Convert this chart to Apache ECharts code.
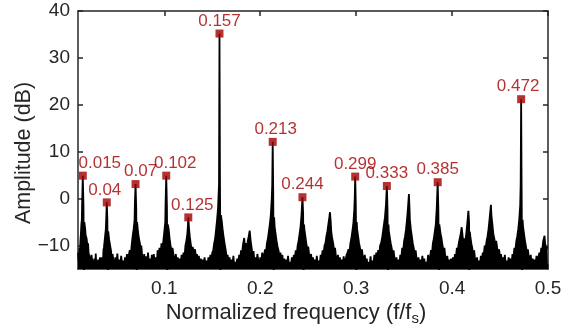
<!DOCTYPE html>
<html>
<head>
<meta charset="utf-8">
<script src="https://cdn.jsdelivr.net/npm/echarts@6/dist/echarts.min.js"></script>
<style>
html,body{margin:0;padding:0;background:#fff;}
#chart{width:561px;height:333px;}
</style>
</head>
<body>
<div id="chart"></div>
<script>
// Tick values
const xTicks = [0.1, 0.2, 0.3, 0.4, 0.5];
const yTicks = [-10, 0, 10, 20, 30, 40];

// Labelled peaks
const peakFreq  = [0.015, 0.04, 0.07, 0.102, 0.125, 0.1575, 0.213, 0.244, 0.299, 0.332, 0.385, 0.472];
const peakAmp   = [4.9, -0.8, 3.1, 4.9, -4.0, 35.2, 12.1, 0.3, 4.7, 2.7, 3.5, 21.2];
const peakLabel = ['0.015','0.04','0.07','0.102','0.125','0.157','0.213','0.244','0.299','0.333','0.385','0.472'];

// Spectrum [frequency (f/fs), amplitude (dB)]
const spectrum = [
[0.010,-11.5],[0.011,-14],[0.0115,-10.5],[0.012,-12],[0.0125,-9],[0.013,-7.5],[0.0135,-5.5],[0.014,-4.5],[0.0143,-1],[0.015,4.9],[0.0157,-1.5],[0.0162,-15.5],[0.0166,-5],[0.0175,-6.5],[0.018,-7.8],[0.019,-8.5],[0.020,-10.5],[0.0205,-9.5],[0.021,-11.5],[0.022,-12.5],[0.023,-14],[0.024,-12],
[0.025,-13.5],[0.026,-14.5],[0.027,-12.8],[0.028,-14.2],[0.0285,-11.7],[0.029,-13.8],[0.030,-14.6],[0.031,-13],[0.032,-14.2],[0.033,-12.5],[0.034,-14],
[0.035,-12.5],[0.036,-13.8],[0.0365,-11],[0.037,-10.5],[0.038,-8.5],[0.039,-6.5],[0.0395,-4],[0.040,-0.8],[0.0406,-4.5],[0.0411,-15.5],[0.0415,-7],[0.0425,-8.8],[0.0435,-10],[0.0445,-11.2],[0.045,-13.5],[0.046,-11.8],[0.047,-13.2],[0.048,-14.5],
[0.049,-12.5],[0.050,-14.2],[0.051,-11.7],[0.052,-14.3],[0.053,-13],[0.054,-14.6],[0.055,-12.2],[0.056,-14],[0.057,-13.2],[0.058,-14.5],[0.059,-12.5],[0.060,-14],[0.061,-11.8],[0.062,-13.5],
[0.063,-12],[0.064,-11],[0.065,-12.2],[0.066,-9.8],[0.067,-8],[0.068,-6.5],[0.069,-4.5],[0.0693,-1],[0.070,3.1],[0.0707,-2],[0.0712,-15.5],[0.0716,-5],[0.0725,-7],[0.0735,-8.5],[0.0745,-9.5],[0.0755,-11],[0.076,-10],[0.077,-12.5],[0.078,-13.5],[0.079,-11.8],
[0.080,-14.2],[0.081,-12.3],[0.082,-14.5],[0.083,-11.5],[0.084,-13.8],[0.085,-12.8],[0.086,-14.6],[0.087,-12],[0.088,-14],[0.089,-11.8],[0.090,-13.8],[0.091,-12.5],[0.092,-14.4],[0.093,-11],
[0.094,-12],[0.095,-10.5],[0.096,-12.5],[0.097,-9.5],[0.098,-10.8],[0.099,-9],[0.100,-7],[0.101,-5],[0.1013,-1],[0.102,4.9],[0.1027,-1.5],[0.1032,-15.5],[0.1036,-5.5],[0.1045,-6.5],[0.1055,-8.5],[0.1065,-10],[0.1075,-11.2],[0.1085,-10.5],[0.110,-12.5],[0.111,-13.8],[0.112,-11.8],
[0.113,-14],[0.114,-12.5],[0.115,-14.5],[0.116,-12.8],[0.117,-14],[0.118,-12],[0.119,-13.5],
[0.120,-11.5],[0.121,-12.5],[0.122,-10],[0.123,-9],[0.124,-7.5],[0.1245,-6],[0.125,-4],[0.1258,-6.5],[0.1265,-8],[0.1275,-9.6],[0.1285,-11],[0.1295,-10.3],[0.131,-11.5],[0.132,-10.8],[0.133,-12.5],[0.134,-11.8],[0.135,-13.5],[0.136,-12.2],[0.137,-14],[0.138,-12.8],[0.139,-14.5],[0.140,-13],
[0.141,-14.2],[0.142,-12.5],[0.143,-14.6],[0.144,-13.2],[0.145,-14.2],[0.146,-12.5],[0.147,-14],[0.148,-12],
[0.149,-13],[0.150,-11.5],[0.151,-11],[0.152,-9.5],[0.153,-8.5],[0.154,-6.5],[0.155,-4.5],[0.156,-2],[0.157,3],[0.1575,35.2],[0.158,4],[0.1585,-15.5],[0.159,-3.5],[0.160,-5],[0.161,-7],[0.162,-8.5],[0.163,-9.8],[0.164,-11],[0.165,-12.5],[0.166,-12],[0.167,-13.5],
[0.168,-12.5],[0.169,-14.3],[0.170,-13],[0.171,-14.2],[0.172,-12.2],[0.173,-14.6],[0.174,-13.5],[0.175,-14.3],[0.176,-12.8],[0.177,-14],
[0.178,-12],[0.179,-13],[0.180,-11],[0.181,-11.8],[0.182,-9.8],[0.1833,-8.4],[0.184,-10.5],[0.185,-9.5],[0.186,-11],[0.187,-9],[0.188,-8],[0.189,-6.8],[0.190,-9],[0.191,-10.5],[0.192,-12],[0.193,-11.2],[0.194,-13.5],
[0.195,-12.5],[0.196,-14.2],[0.197,-11.8],[0.198,-13.2],[0.199,-14.6],[0.200,-12.5],[0.201,-14],[0.202,-11.5],[0.203,-13],[0.204,-12],
[0.205,-10.8],[0.206,-11.5],[0.207,-9.5],[0.208,-8.5],[0.209,-7],[0.210,-5.5],[0.211,-3.5],[0.212,0],[0.2125,3],[0.213,12.1],[0.2135,2],[0.214,-15.5],[0.2145,-4],[0.215,-6],[0.216,-7.5],[0.217,-9],[0.218,-10.2],[0.219,-11],[0.220,-12.3],[0.221,-11.5],[0.222,-13.2],
[0.223,-12],[0.224,-14],[0.225,-12.8],[0.226,-14.5],[0.227,-13],[0.228,-14.3],[0.229,-12.2],[0.230,-14.6],[0.231,-13.5],[0.232,-14.3],[0.233,-12.5],[0.234,-14],[0.235,-12],[0.236,-13],
[0.237,-11],[0.238,-12],[0.239,-10],[0.240,-9],[0.241,-7.5],[0.242,-6],[0.243,-3.5],[0.244,0.3],[0.2447,-3],[0.2452,-15.5],[0.2457,-5.5],[0.246,-6.5],[0.247,-8],[0.248,-9.5],[0.249,-10.8],[0.250,-10.2],[0.251,-12],[0.252,-13.2],[0.253,-11.8],
[0.254,-14],[0.255,-12.5],[0.256,-14.4],[0.257,-13],[0.258,-14.2],[0.259,-12.2],[0.260,-14.6],[0.261,-13.2],[0.262,-14],[0.263,-12],
[0.264,-12.8],[0.265,-11],[0.266,-11.8],[0.267,-10],[0.268,-9.5],[0.269,-8],[0.270,-7],[0.271,-5.5],[0.272,-4],[0.2727,-2.9],[0.2735,-5],[0.274,-7],[0.275,-8.5],[0.276,-9.5],[0.277,-11],[0.278,-10.5],[0.279,-12.5],
[0.280,-13.5],[0.281,-12],[0.282,-14.2],[0.283,-12.5],[0.284,-14.6],[0.285,-13],[0.286,-14],[0.287,-12.3],[0.288,-14.4],[0.289,-13],[0.290,-12],
[0.291,-11.5],[0.292,-10.8],[0.293,-11.5],[0.294,-9.5],[0.295,-8.5],[0.296,-7],[0.297,-5.5],[0.298,-2.5],[0.2985,0],[0.299,4.7],[0.2996,-1],[0.3002,-15.5],[0.3006,-5],[0.301,-6.5],[0.302,-8],[0.303,-9.5],[0.304,-10.5],[0.305,-11.5],[0.306,-10.8],[0.307,-12.5],[0.308,-13.5],
[0.309,-12],[0.310,-14],[0.311,-12.8],[0.312,-14.5],[0.313,-13.5],[0.314,-14.2],[0.315,-12.3],[0.316,-14.5],[0.317,-13.2],[0.318,-14],[0.319,-12],[0.320,-13.5],[0.321,-11.5],[0.322,-12.5],
[0.323,-11],[0.324,-12],[0.325,-10],[0.326,-9.5],[0.327,-8.5],[0.328,-7],[0.329,-5.5],[0.330,-4],[0.331,-1.5],[0.332,2.7],[0.3327,-2.5],[0.3332,-15.5],[0.3337,-5.5],[0.334,-6.8],[0.335,-8.2],[0.336,-9.5],[0.337,-10.5],[0.338,-11.8],[0.339,-11],[0.340,-12.8],[0.341,-14],
[0.342,-12.5],[0.343,-14.4],[0.344,-13],[0.345,-14.2],[0.346,-12],
[0.347,-12.8],[0.348,-10.5],[0.349,-11.2],[0.350,-9],[0.351,-8],[0.352,-6.5],[0.353,-4.5],[0.354,-2],[0.355,1.0],[0.3557,-2.5],[0.356,-4.5],[0.357,-6.5],[0.358,-8],[0.359,-9.5],[0.360,-10.5],[0.361,-11.8],[0.362,-11],[0.363,-12.8],
[0.364,-14],[0.365,-12.5],[0.366,-14.5],[0.367,-13],[0.368,-14.3],[0.369,-12.2],[0.370,-14],[0.371,-12.8],[0.372,-14.6],[0.373,-13.5],[0.374,-14.2],[0.375,-12],[0.376,-13.8],
[0.377,-12.5],[0.378,-11],[0.379,-11.8],[0.380,-9.5],[0.381,-8.5],[0.382,-7],[0.383,-5.5],[0.384,-2],[0.385,3.5],[0.3857,-2.5],[0.3862,-15.5],[0.3867,-5.5],[0.388,-7.5],[0.389,-8.5],[0.390,-10],[0.391,-11],[0.392,-10.5],[0.393,-12.5],[0.394,-13.5],
[0.395,-12.2],[0.396,-14.2],[0.397,-13],[0.398,-14.6],[0.399,-12.8],[0.400,-14.2],[0.401,-12.5],[0.402,-13.5],
[0.403,-11.8],[0.404,-12.5],[0.405,-10.5],[0.406,-11],[0.407,-9.5],[0.408,-8.5],[0.409,-7.5],[0.410,-6.1],[0.411,-8],[0.412,-9.5],[0.413,-8.5],[0.414,-9],[0.415,-7],[0.416,-5],[0.417,-2.6],[0.4177,-5],[0.418,-15.5],[0.4185,-7],[0.419,-8],[0.420,-9.5],[0.421,-10.5],[0.422,-11.8],[0.423,-11],[0.424,-13],
[0.425,-14],[0.426,-12.5],[0.427,-14.5],[0.428,-13.2],[0.429,-14.2],[0.430,-12.2],[0.431,-13.5],
[0.432,-11.5],[0.433,-12],[0.434,-10],[0.435,-10.5],[0.436,-9],[0.437,-8],[0.438,-6.5],[0.439,-4.5],[0.4405,-1.3],[0.441,-3.5],[0.442,-5.5],[0.443,-7.5],[0.444,-8.5],[0.445,-9.8],[0.446,-9],[0.447,-10.5],[0.448,-11.5],[0.449,-10.8],[0.450,-12.5],[0.451,-11.8],[0.452,-13.5],
[0.453,-12.5],[0.454,-14.2],[0.455,-12],[0.456,-14.6],[0.457,-13.2],[0.458,-14],[0.459,-12.5],[0.460,-14.5],[0.461,-12.8],[0.462,-13.8],[0.463,-11.8],
[0.464,-12.5],[0.465,-10.5],[0.466,-11],[0.467,-9],[0.468,-8],[0.469,-6.5],[0.470,-4.5],[0.471,-1.5],[0.4715,3],[0.472,21.2],[0.4725,2],[0.473,-15.5],[0.4735,-4.5],[0.474,-6],[0.475,-7.5],[0.476,-9],[0.477,-10.2],[0.478,-11.5],[0.479,-10.8],[0.480,-12.5],[0.481,-13.5],
[0.482,-12],[0.483,-14.2],[0.484,-12.8],[0.485,-14.5],[0.486,-13],[0.487,-14.2],[0.488,-12.2],[0.489,-14],[0.490,-12.5],
[0.491,-11.5],[0.492,-12.5],[0.493,-10.5],[0.494,-11],[0.495,-9],[0.4964,-7.9],[0.497,-9.5],[0.498,-11],[0.499,-10.4],[0.500,-10.4]
];

// Style only: horizontal nudges (px) of some peak labels, as placed in the original
const labelNudge = {'0.015': 17, '0.04': -2, '0.07': 5, '0.102': 9, '0.125': 4, '0.213': 3, '0.472': -3};

const AX = '#262626';
const RED = '#a00000';
const FONT = '"Liberation Sans", Arial, Helvetica, sans-serif';

const chart = echarts.init(document.getElementById('chart'), null, {renderer: 'canvas'});

const peakData = peakFreq.map((f, i) => ({
  value: [f, peakAmp[i]],
  name: peakLabel[i],
  label: {offset: [labelNudge[peakLabel[i]] || 0, 0]}
}));

const baseX = {
  type: 'value', min: 0.01, max: 0.5,
  axisLine: {show: true, onZero: false, lineStyle: {color: AX, width: 1.5}},
  splitLine: {show: false}
};
const baseY = {
  type: 'value', min: -15, max: 40,
  axisLine: {show: true, onZero: false, lineStyle: {color: AX, width: 1.5}},
  splitLine: {show: false}
};

chart.setOption({
  animation: false,
  backgroundColor: '#fff',
  grid: {left: 78, right: 13, top: 11, bottom: 64, containLabel: false, outerBoundsMode: 'none'},
  xAxis: [
    Object.assign({}, baseX, {
      position: 'bottom',
      name: 'Normalized frequency (f/f{sub|s})',
      nameLocation: 'middle',
      nameGap: 31,
      nameMoveOverlap: false,
      nameTextStyle: {color: AX, fontSize: 22, fontFamily: FONT, padding: [0, 34, 0, 0],
        rich: {sub: {fontSize: 15, fontFamily: FONT, color: AX, verticalAlign: 'bottom', padding: [11, 0, 0, 0]}}},
      axisTick: {show: true, inside: true, length: 5, customValues: xTicks, lineStyle: {color: AX, width: 1.5}},
      axisLabel: {show: true, customValues: xTicks, margin: 10, color: AX, fontSize: 19, fontFamily: FONT,
        formatter: v => String(v)}
    }),
    Object.assign({}, baseX, {
      position: 'top',
      axisTick: {show: true, inside: true, length: 5, customValues: xTicks, lineStyle: {color: AX, width: 1.5}},
      axisLabel: {show: false}
    })
  ],
  yAxis: [
    Object.assign({}, baseY, {
      position: 'left',
      name: 'Amplitude (dB)',
      nameLocation: 'middle',
      nameGap: 43,
      nameMoveOverlap: false,
      nameTextStyle: {color: AX, fontSize: 21.5, fontFamily: FONT, padding: [0, 26, 0, 0]},
      axisTick: {show: true, inside: true, length: 5, customValues: yTicks, lineStyle: {color: AX, width: 1.5}},
      axisLabel: {show: true, customValues: yTicks, margin: 8, color: AX, fontSize: 19, fontFamily: FONT,
        formatter: v => (v < 0 ? '\u2212' + Math.abs(v) : String(v))}
    }),
    Object.assign({}, baseY, {
      position: 'right',
      axisTick: {show: true, inside: true, length: 5, customValues: yTicks, lineStyle: {color: AX, width: 1.5}},
      axisLabel: {show: false}
    })
  ],
  series: [
    {
      type: 'line',
      data: spectrum,
      xAxisIndex: 0, yAxisIndex: 0,
      showSymbol: false,
      symbol: 'none',
      clip: true,
      sampling: null,
      lineStyle: {color: '#000', width: 1.8},
      areaStyle: {color: '#000', opacity: 1, origin: 'start'},
      z: 2
    },
    {
      type: 'scatter',
      data: peakData,
      xAxisIndex: 0, yAxisIndex: 0,
      symbol: 'rect',
      symbolSize: 8,
      itemStyle: {color: RED},
      label: {show: true, position: 'top', distance: 0, color: RED, fontSize: 17, fontFamily: FONT,
        formatter: p => p.name},
      z: 3
    }
  ]
});
</script>
</body>
</html>
